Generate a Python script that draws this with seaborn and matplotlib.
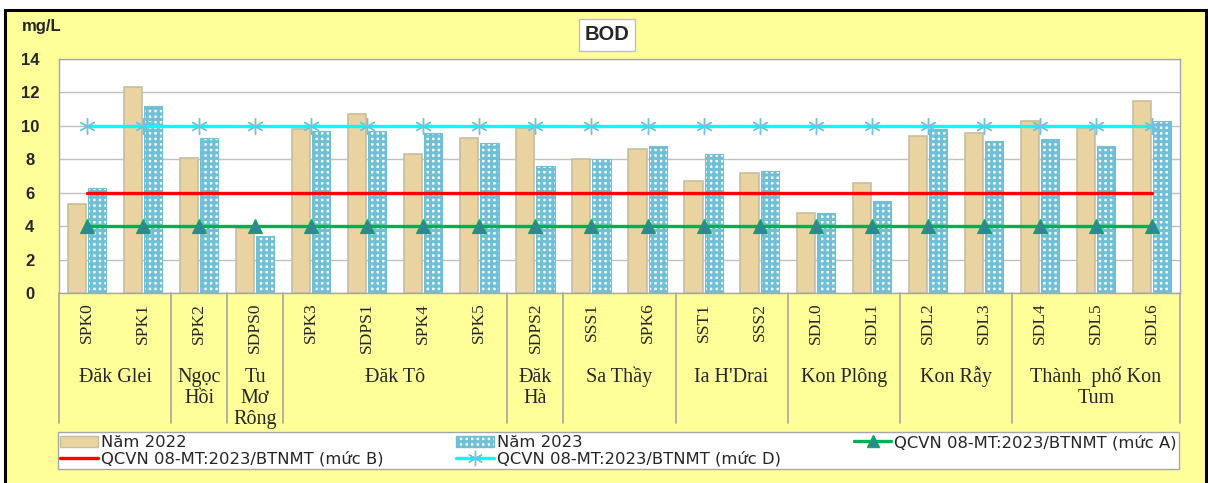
import numpy as np
import pandas as pd
import matplotlib
matplotlib.use("Agg")
import matplotlib.pyplot as plt
import seaborn as sns
from matplotlib.patches import Rectangle, Patch
from matplotlib.lines import Line2D
import matplotlib.transforms as mtransforms

# ---------------- data ----------------
stations = ["SPK0", "SPK1", "SPK2", "SDPS0", "SPK3", "SDPS1", "SPK4", "SPK5",
            "SDPS2", "SSS1", "SPK6", "SST1", "SSS2", "SDL0", "SDL1", "SDL2",
            "SDL3", "SDL4", "SDL5", "SDL6"]
bod_2022 = [5.3, 12.3, 8.1, 3.9, 9.8, 10.7, 8.3, 9.3, 9.9, 8.0, 8.6, 6.7, 7.2,
            4.8, 6.6, 9.4, 9.6, 10.3, 9.9, 11.5]
bod_2023 = [6.3, 11.2, 9.3, 3.4, 9.7, 9.7, 9.6, 9.0, 7.6, 8.0, 8.8, 8.3, 7.3,
            4.8, 5.5, 9.8, 9.1, 9.2, 8.8, 10.3]
groups = ["Đăk Glei", "Ngọc\nHồi", "Tu\nMơ\nRông", "Đăk Tô", "Đăk\nHà",
          "Sa Thầy", "Ia H'Drai", "Kon Plông", "Kon Rẫy", "Thành  phố Kon\nTum"]
group_sizes = [2, 1, 1, 4, 1, 2, 2, 2, 2, 3]
qcvn_A = 4
qcvn_B = 6
qcvn_D = 10
year_labels = ["Năm 2022", "Năm 2023"]
std_labels = ["QCVN 08-MT:2023/BTNMT (mức A)",
              "QCVN 08-MT:2023/BTNMT (mức B)",
              "QCVN 08-MT:2023/BTNMT (mức D)"]

df = pd.DataFrame({
    "station": stations * 2,
    "value": bod_2022 + bod_2023,
    "year": [year_labels[0]] * len(stations) + [year_labels[1]] * len(stations),
})

# ---------------- style ----------------
sns.set_theme(style="white")
plt.rcParams["font.family"] = ["DejaVu Sans"]
plt.rcParams["hatch.linewidth"] = 2.2

W, H = 1208, 483
fig = plt.figure(figsize=(W / 100, H / 100), dpi=100)
fig.patch.set_facecolor("white")

# yellow chart area with black frame
fig.patches.append(Rectangle((5 / W, -0.05), (1206 - 5) / W, 1.05 - 10 / H,
                             transform=fig.transFigure, facecolor="#FFFF99",
                             edgecolor="black", linewidth=2.2, zorder=-10))

ax = fig.add_axes([59 / W, 1 - 293 / H, (1180 - 59) / W, (293 - 59) / H])
ax.set_facecolor("white")

tan = "#E9D3A0"
blue = "#4BACC6"
sns.barplot(data=df, x="station", y="value", hue="year", order=stations,
            hue_order=year_labels, width=0.72, gap=0.1, ax=ax,
            palette=[tan, "white"], legend=False, zorder=2)

for p in ax.containers[0]:
    p.set_facecolor(tan)
    p.set_edgecolor("#C9BD9E")
    p.set_linewidth(1.2)
for p in ax.containers[1]:
    p.set_facecolor("white")
    p.set_edgecolor("#6FC0D6")
    p.set_linewidth(0.8)
    p.set_hatch("+++")

n = len(stations)
xpos = np.arange(n)
ax.plot(xpos, np.full(n, qcvn_D), color="#00FFFF", lw=2.4, zorder=4,
        marker=(6, 2, 0), ms=12, mec="#6EC3DE", mew=1.0)
ax.plot(xpos, np.full(n, qcvn_B), color="#FF0000", lw=2.4, zorder=4)
ax.plot(xpos, np.full(n, qcvn_A), color="#00B050", lw=2.4, zorder=4,
        marker="^", ms=10, mfc="#31849B", mec="#00B050", mew=0.8)

ax.set_xlim(-0.5, n - 0.5)
ax.set_ylim(0, 14)
ax.set_yticks(np.arange(0, 15, 2))
ax.yaxis.grid(True, color="#BFBFBF", lw=1)
ax.set_axisbelow(True)
for s in ax.spines.values():
    s.set_color("#A6A6A6")
    s.set_linewidth(1)
ax.set_xlabel("")
ax.set_ylabel("")
ax.tick_params(axis="y", length=0, pad=21)
for t in ax.get_yticklabels():
    t.set_fontfamily("Liberation Sans")
    t.set_fontweight("bold")
    t.set_fontsize(12)
    t.set_horizontalalignment("center")
ax.set_xticks(xpos)
ax.set_xticklabels(stations, rotation=90, fontfamily="Liberation Serif",
                   fontsize=12.5, va="top")
ax.tick_params(axis="x", length=0, pad=7)

# multi-level category separators and group labels
trans = mtransforms.blended_transform_factory(ax.transData, fig.transFigure)
y_top = 1 - 293 / H
y_bot = 1 - 423 / H
bounds = np.concatenate([[0], np.cumsum(group_sizes)]) - 0.5
for b in bounds:
    fig.add_artist(Line2D([b, b], [y_top, y_bot], transform=trans,
                          color="#A6A6A6", lw=1.2))
for g, lo, hi in zip(groups, bounds[:-1], bounds[1:]):
    for i, line in enumerate(g.split("\n")):
        fig.text((lo + hi) / 2, 1 - (382 + 21 * i) / H, line, transform=trans,
                 ha="center", va="baseline", fontfamily="Liberation Serif",
                 fontsize=14.5)

# titles
fig.text(607 / W, 1 - 35 / H, "BOD", ha="center", va="center",
         fontfamily="Liberation Sans", fontweight="bold", fontsize=14.5,
         bbox=dict(boxstyle="square,pad=0.3", facecolor="white",
                   edgecolor="#BFBFBF", lw=1))
fig.text(42 / W, 1 - 27 / H, "mg/L", ha="center", va="center",
         fontfamily="Liberation Sans", fontweight="bold", fontsize=12)

# legend (column-wise fill: 2022, B | 2023, D | A)
h2022 = Patch(facecolor=tan, edgecolor="#C9BD9E")
h2023 = Patch(facecolor="white", edgecolor="#6FC0D6", hatch="+++")
hA = Line2D([], [], color="#00B050", lw=2.4, marker="^", ms=9,
            mfc="#31849B", mec="#00B050")
hB = Line2D([], [], color="#FF0000", lw=2.4)
hD = Line2D([], [], color="#00FFFF", lw=2.4, marker=(6, 2, 0), ms=11,
            mec="#6EC3DE")
handles = [h2022, hB, h2023, hD, hA]
labels = [year_labels[0], std_labels[1], year_labels[1], std_labels[2],
          std_labels[0]]
leg = fig.legend(handles, labels, ncol=3, mode="expand",
                 bbox_to_anchor=(58 / W, 1 - 469 / H, (1179 - 58) / W,
                                 (469 - 427) / H),
                 loc="lower left", frameon=True, fancybox=False,
                 edgecolor="#A6A6A6", facecolor="white", framealpha=1,
                 fontsize=11.8, handlelength=2.3, handletextpad=0.15,
                 borderpad=0.15, labelspacing=0.05, borderaxespad=0,
                 columnspacing=1.0)
leg.get_frame().set_linewidth(1)

fig.savefig("out.png", dpi=100, facecolor=fig.get_facecolor())
